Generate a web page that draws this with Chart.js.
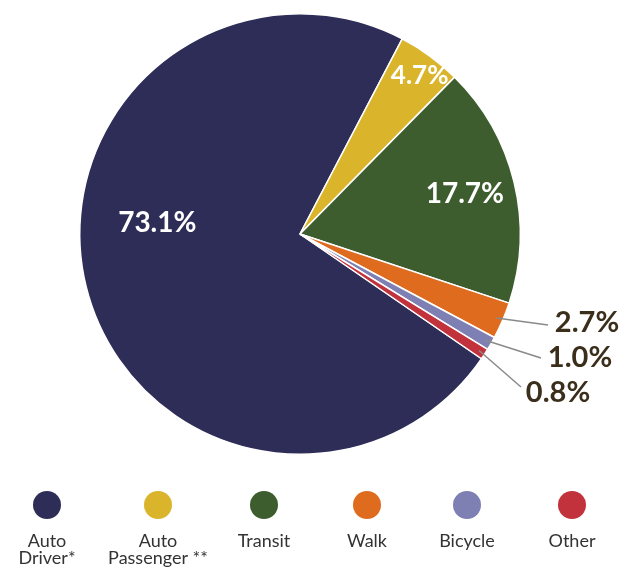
<!DOCTYPE html>
<html><head><meta charset="utf-8">
<script src="https://cdn.jsdelivr.net/npm/chart.js@4"></script>
<style>html,body{margin:0;padding:0;background:#fff}#wrap{position:relative;width:634px;height:567px}</style>
</head><body><div id="wrap"><canvas id="c" width="634" height="567"></canvas></div>
<script>
const categories = ["Auto Driver", "Auto Passenger", "Transit", "Walk", "Bicycle", "Other"];
const legendLines = [["Auto", "Driver*"], ["Auto", "Passenger **"], ["Transit"], ["Walk"], ["Bicycle"], ["Other"]];
const shares = [73.1, 4.7, 17.7, 2.7, 1.0, 0.8];
const valueLabels = ["73.1%", "4.7%", "17.7%", "2.7%", "1.0%", "0.8%"];
const colors = ["#2e2d57", "#dab52b", "#3e5d2f", "#df6b1e", "#7e80b3", "#c2323c"];

// label layout: inside (fraction of radius, angle nudge in degrees) or outside (anchor point)
const labelLayout = [
  {inside: true, r: 0.65, nudge: 18.5, size: 28},
  {inside: true, r: 0.90, nudge: 1, size: 26},
  {inside: true, r: 0.77, nudge: 0, size: 28},
  {inside: false, tx: 587, ty: 323, lx: 548, ly: 325, size: 29},
  {inside: false, tx: 580, ty: 358, lx: 541, ly: 358, size: 29},
  {inside: false, tx: 558, ty: 393, lx: 521, ly: 387, size: 29}
];
const legendX = [47, 158, 264, 367, 467, 572];

const labelPlugin = {
  id: 'labels',
  afterDatasetsDraw(chart) {
    const ctx = chart.ctx;
    const meta = chart.getDatasetMeta(0);
    ctx.save();
    meta.data.forEach((arc, i) => {
      const p = arc.getProps(['x','y','startAngle','endAngle','outerRadius'], true);
      const mid = (p.startAngle + p.endAngle) / 2;
      const L = labelLayout[i];
      ctx.textAlign = 'center';
      ctx.textBaseline = 'middle';
      ctx.font = 'bold ' + L.size + 'px Lato';
      if (L.inside) {
        const a = mid + L.nudge * Math.PI / 180;
        const x = p.x + Math.cos(a) * p.outerRadius * L.r;
        const y = p.y + Math.sin(a) * p.outerRadius * L.r;
        ctx.fillStyle = '#ffffff';
        ctx.fillText(valueLabels[i], x, y);
      } else {
        const sx = p.x + Math.cos(mid) * p.outerRadius * 0.97;
        const sy = p.y + Math.sin(mid) * p.outerRadius * 0.97;
        ctx.strokeStyle = '#8a8a8a';
        ctx.lineWidth = 1.5;
        ctx.beginPath(); ctx.moveTo(sx, sy); ctx.lineTo(L.lx, L.ly); ctx.stroke();
        ctx.fillStyle = '#3b2f1c';
        ctx.fillText(valueLabels[i], L.tx, L.ty);
      }
    });
    // legend
    categories.forEach((c, i) => {
      const x = legendX[i];
      ctx.fillStyle = colors[i];
      ctx.beginPath(); ctx.arc(x, 505, 14, 0, Math.PI * 2); ctx.fill();
      ctx.fillStyle = '#333333';
      ctx.font = '18px Lato';
      ctx.textAlign = 'center';
      ctx.textBaseline = 'middle';
      legendLines[i].forEach((t, k) => ctx.fillText(t, x, 541 + k * 17));
    });
    ctx.restore();
  }
};

new Chart(document.getElementById('c'), {
  type: 'pie',
  data: {
    labels: categories,
    datasets: [{
      data: shares,
      backgroundColor: colors,
      borderColor: '#ffffff',
      borderWidth: 1.5
    }]
  },
  options: {
    responsive: false,
    animation: false,
    rotation: 124.5,
    layout: {padding: {left: 79, right: 113, top: 13, bottom: 112}},
    plugins: {legend: {display: false}, tooltip: {enabled: false}}
  },
  plugins: [labelPlugin]
});
</script></body></html>
